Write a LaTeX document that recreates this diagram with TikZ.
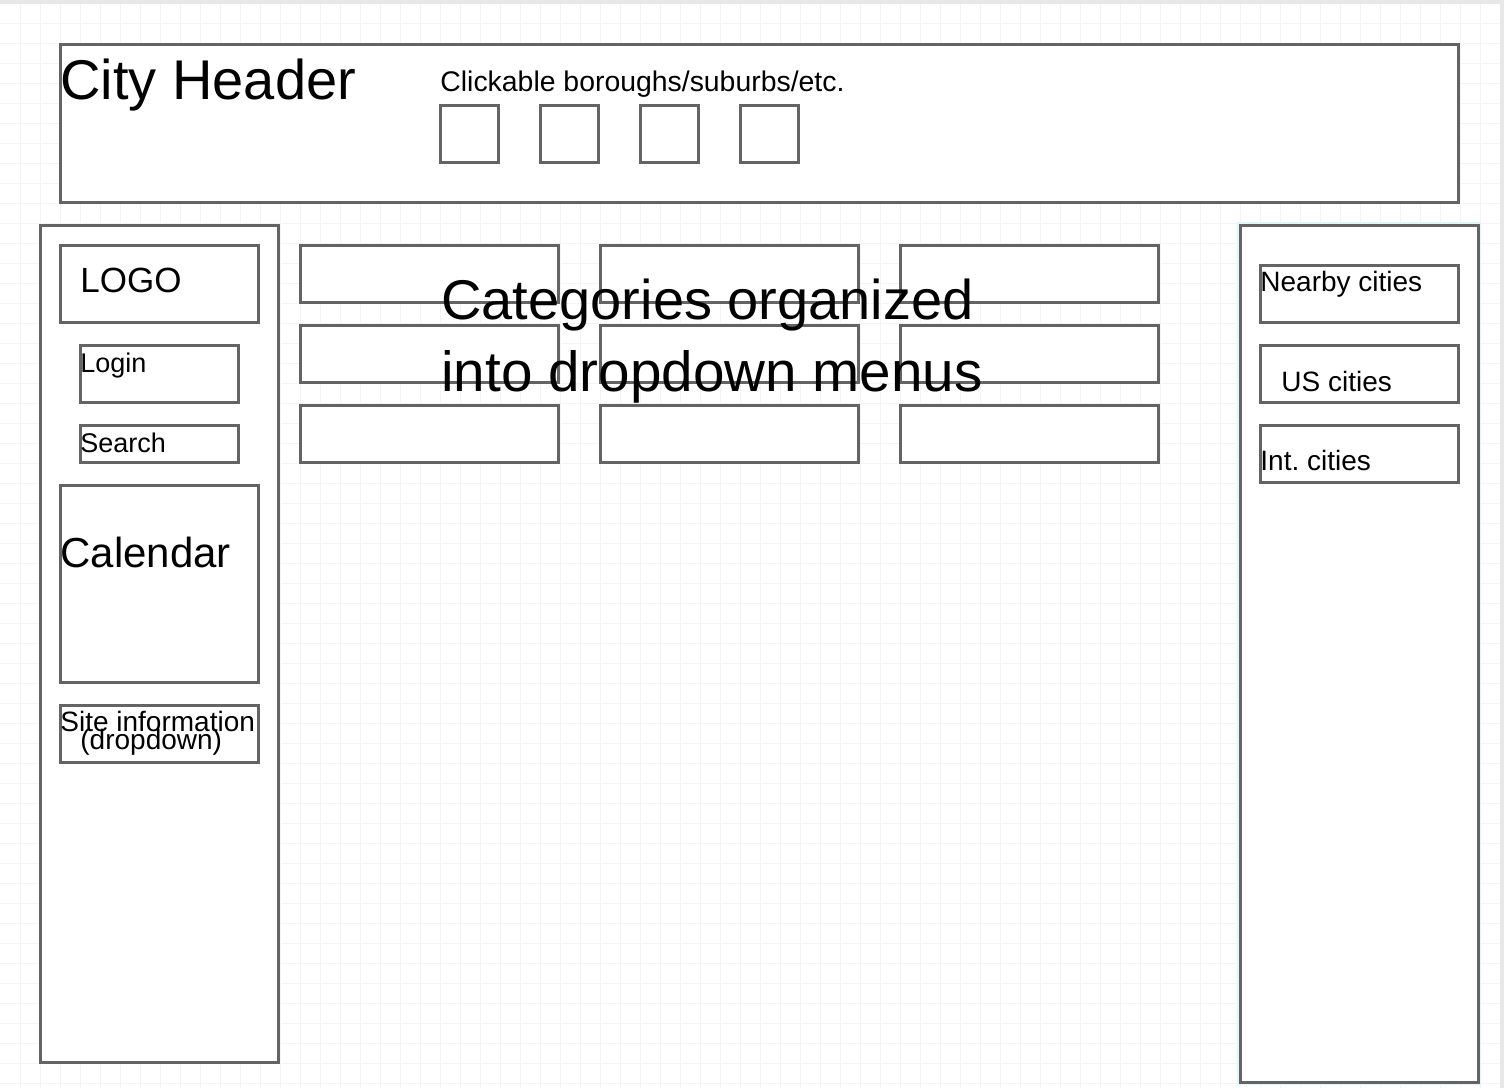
\documentclass[tikz,border=0pt]{standalone}
\usepackage{fontspec}
\setmainfont{Liberation Sans}
\definecolor{wireline}{RGB}{100,100,100}
\definecolor{gridline}{RGB}{244,244,244}
\definecolor{glow}{RGB}{225,246,250}
\definecolor{chrome}{RGB}{232,232,232}

\begin{document}
\frenchspacing
\begin{tikzpicture}[x = 0.5pt, y = -0.5pt,
	wire/.style = {draw = wireline, line width = 1.5pt, fill = white},
	txt/.style = {inner sep = 0pt, anchor = base west, font = \fontsize{#1}{#1}\selectfont},
	txt/.default = 14]
	\useasboundingbox (0, 0) rectangle (1504, 1088);
	\fill[white] (0, 0) rectangle (1504, 1088);

	% background grid
	\foreach \gx in {20, 40, ..., 1480}
		\draw[gridline, line width = 0.5pt] (\gx, 4) -- (\gx, 1088);
	\foreach \gy in {23, 43, ..., 1083}
		\draw[gridline, line width = 0.5pt] (0, \gy) -- (1500, \gy);
	\fill[chrome] (0, 0) rectangle (1504, 4);
	\fill[chrome] (1500, 0) rectangle (1504, 1088);

	% header
	\draw[wire] (60, 44) rectangle (1458, 202);
	\draw[wire] (440, 105) rectangle ++ (58, 57);
	\draw[wire] (540, 105) rectangle ++ (58, 57);
	\draw[wire] (640, 105) rectangle ++ (58, 57);
	\draw[wire] (740, 105) rectangle ++ (58, 57);
	\node[txt = 28] (cityheader) at (60, 99) {City Header};
	\node[txt = 14.2] (boroughs) at (440, 91) {Clickable boroughs/suburbs/etc.};

	% left sidebar
	\draw[wire] (40, 225) rectangle (278, 1062);
	\draw[wire] (60, 245) rectangle (258, 322);
	\draw[wire] (80, 345) rectangle (238, 402);
	\draw[wire] (80, 425) rectangle (238, 462);
	\draw[wire] (60, 485) rectangle (258, 682);
	\draw[wire] (60, 705) rectangle (258, 762);
	\node[txt = 17.5] (logo) at (80, 292) {LOGO};
	\node[txt = 13.5] (login) at (80, 372) {Login};
	\node[txt = 13.5] (search) at (80, 452) {Search};
	\node[txt = 21] (calendar) at (60, 567) {Calendar};
	\node[txt = 14] (siteinfo) at (60, 731) {Site information};
	\node[txt = 14] (dropdown) at (80, 749) {(dropdown)};

	% category menus
	\def\colw{258}
	\def\rowh{57}
	\draw[wire] (300, 245) rectangle ++ (\colw, \rowh);
	\draw[wire] (600, 245) rectangle ++ (\colw, \rowh);
	\draw[wire] (900, 245) rectangle ++ (\colw, \rowh);
	\draw[wire] (300, 325) rectangle ++ (\colw, \rowh);
	\draw[wire] (600, 325) rectangle ++ (\colw, \rowh);
	\draw[wire] (900, 325) rectangle ++ (\colw, \rowh);
	\draw[wire] (300, 405) rectangle ++ (\colw, \rowh);
	\draw[wire] (600, 405) rectangle ++ (\colw, \rowh);
	\draw[wire] (900, 405) rectangle ++ (\colw, \rowh);
	\node[txt = 28] (categories) at (441, 319) {Categories organized};
	\node[txt = 28.3] (dropmenus) at (441, 391) {into dropdown menus};

	% right sidebar
	\draw[glow, line width = 3pt] (1240, 225) rectangle (1478, 1082);
	\draw[wire] (1240, 225) rectangle (1478, 1082);
	\draw[wire] (1260, 265) rectangle (1458, 322);
	\draw[wire] (1260, 345) rectangle (1458, 402);
	\draw[wire] (1260, 425) rectangle (1458, 482);
	\node[txt = 14] (nearby) at (1260, 291) {Nearby cities};
	\node[txt = 14] (uscities) at (1281, 391) {US cities};
	\node[txt = 14] (intcities) at (1260, 470) {Int. cities};
\end{tikzpicture}
\end{document}
